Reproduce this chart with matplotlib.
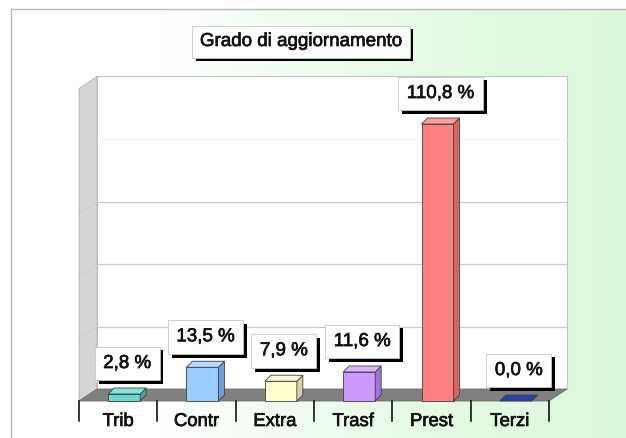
import numpy as np
import matplotlib
matplotlib.use('Agg')
import matplotlib.pyplot as plt
from matplotlib.patches import Polygon, Rectangle
from matplotlib.colors import LinearSegmentedColormap
import matplotlib.patheffects as pe

plt.rcParams['font.family'] = ['Liberation Sans', 'DejaVu Sans']

categorie = ['Trib', 'Contr', 'Extra', 'Trasf', 'Prest', 'Terzi']
valori = [2.8, 13.5, 7.9, 11.6, 110.8, 0.0]
titolo = 'Grado di aggiornamento'
griglia = [25, 50, 75, 100]
ymax = 125

col_front = ['#66d8cc', '#99ccff', '#ffffcc', '#cc99ff', '#ff8080', '#3344aa']
col_side = ['#3fa89e', '#6f9fd8', '#d6d3a4', '#a273d8', '#d86262', '#22307a']
col_top = ['#86e4da', '#b8dcff', '#fbf8dc', '#dab5ff', '#ff9c9c', '#2c3fb0']

W, H = 626, 439
fig = plt.figure(figsize=(W / 100, H / 100), dpi=100)
fig.patch.set_facecolor('white')

heavy = [pe.withStroke(linewidth=0.5, foreground='#111111')]

# background panel with white->green gradient and grey frame
bg = fig.add_axes([11 / W, 0, (W - 11) / W, (H - 10) / H])
cmap = LinearSegmentedColormap.from_list('bg', ['#ffffff', '#ffffff', '#eefcee', '#e2f9e2', '#dcf8dc'])
bg.imshow(np.linspace(0, 1, 256)[None, :], aspect='auto', cmap=cmap, extent=[0, 1, 0, 1])
bg.set_xlim(0, 1)
bg.set_ylim(0, 1)
bg.set_xticks([])
bg.set_yticks([])
for s in ['right', 'bottom']:
    bg.spines[s].set_visible(False)
for s in ['left', 'top']:
    bg.spines[s].set_color('#b8b8b8')
    bg.spines[s].set_linewidth(1)

# main axes: x = category index, y = percent (front plane)
x0_px, x1_px, y0_px = 79, 549, 402
pxy = 2.5  # pixels per percent
ax = fig.add_axes([x0_px / W, (H - y0_px) / H, (x1_px - x0_px) / W, 130 * pxy / H])
ax.set_xlim(-0.5, len(categorie) - 0.5)
ax.set_ylim(0, 130)
ax.axis('off')

cat_px = (x1_px - x0_px) / len(categorie)
DX, DY = 18 / cat_px, 12 / pxy     # wall depth
BDX, BDY = 6 / cat_px, 6 / pxy     # bar depth
left, right = -0.5, len(categorie) - 0.5

# back wall
ax.add_patch(Rectangle((left + DX, DY), right - left, ymax, facecolor='white',
                       edgecolor='#c4c4c4', lw=0.8, clip_on=False, zorder=1))
for g in griglia:
    c = '#c8c8c8' if g < 100 else '#f2f2f2'
    ax.plot([left + DX, right + DX], [g + DY, g + DY], color=c, lw=0.9, clip_on=False, zorder=1.5)
# side wall
ax.add_patch(Polygon([(left, 0), (left + DX, DY), (left + DX, ymax + DY), (left, ymax)],
                     facecolor='#d6d6d6', edgecolor='#b4b4b4', lw=0.6, clip_on=False, zorder=2))
for g in griglia[:3]:
    ax.plot([left, left + DX], [g, g + DY], color='#cacaca', lw=0.5, clip_on=False, zorder=2.5)
# floor
ax.add_patch(Polygon([(left, 0), (right, 0), (right + DX, DY), (left + DX, DY)],
                     facecolor='#808080', edgecolor='#6c6c6c', lw=0.6, clip_on=False, zorder=3))

# category separators and labels
for k in range(len(categorie) + 1):
    ax.plot([left + k, left + k], [0, -8], color='black', lw=1.1, clip_on=False, zorder=3)
for i, name in enumerate(categorie):
    ax.text(i, -10, name, ha='center', va='baseline', fontsize=13.3, color='#111111',
            path_effects=heavy)

# bars
bw = 32 / cat_px
shift = 6 / cat_px
for i, v in enumerate(valori):
    xa = i + shift - bw / 2
    xb = xa + bw
    if v > 0:
        ax.add_patch(Rectangle((xa, 0), bw, v, facecolor=col_front[i], edgecolor='#404040',
                               lw=0.6, clip_on=False, zorder=5))
        ax.add_patch(Polygon([(xb, 0), (xb + BDX, BDY), (xb + BDX, v + BDY), (xb, v)],
                             facecolor=col_side[i], edgecolor='#404040', lw=0.6,
                             clip_on=False, zorder=5))
    ax.add_patch(Polygon([(xa, v), (xb, v), (xb + BDX, v + BDY), (xa + BDX, v + BDY)],
                         facecolor=col_top[i], edgecolor='#404040', lw=0.6,
                         clip_on=False, zorder=5))
    lab = f'{v:.1f} %'.replace('.', ',')
    t = ax.annotate(lab, xy=(i + shift + BDX / 2, v + BDY), xytext=(0, 11.5),
                    textcoords='offset points', ha='center', va='bottom', fontsize=13.5,
                    color='#111111', zorder=8, path_effects=heavy,
                    bbox=dict(boxstyle='square,pad=0.45', facecolor='white',
                              edgecolor='#c8c8c8', lw=0.6))
    t.get_bbox_patch().set_path_effects([pe.withSimplePatchShadow(offset=(2.8, -2.8),
                                                                  shadow_rgbFace='black', alpha=1)])

# title box
tt = fig.text(301 / W, 1 - 42.5 / H, titolo, ha='center', va='center', fontsize=13.5,
              color='#111111', zorder=10, path_effects=heavy,
              bbox=dict(boxstyle='square,pad=0.4', facecolor='white', edgecolor='#c8c8c8', lw=0.6))
tt.get_bbox_patch().set_path_effects([pe.withSimplePatchShadow(offset=(2.8, -2.8),
                                                               shadow_rgbFace='black', alpha=1)])

fig.savefig('out.png', dpi=100)
